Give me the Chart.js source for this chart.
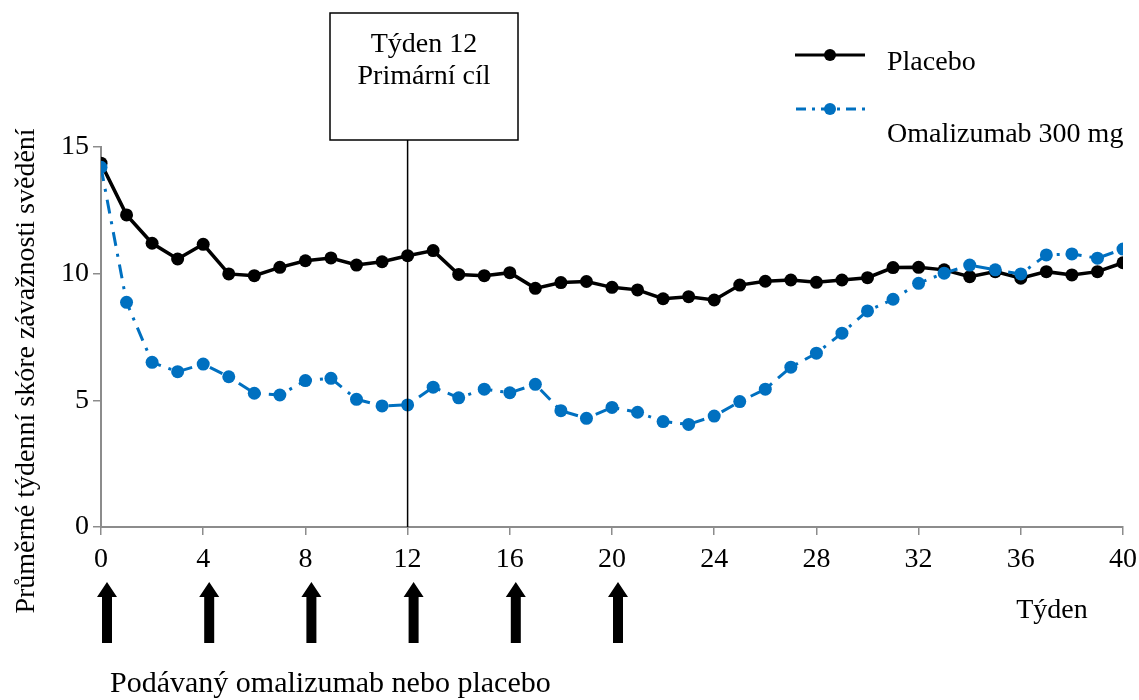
<!DOCTYPE html>
<html>
<head>
<meta charset="utf-8">
<script src="https://cdn.jsdelivr.net/npm/chart.js@4.4.1/dist/chart.umd.min.js"></script>
<style>
  html, body { margin: 0; padding: 0; background: #fff; }
  #wrap { width: 1139px; height: 700px; }
</style>
</head>
<body>
<div id="wrap"><canvas id="chart" width="1139" height="700"></canvas></div>
<script>
// week numbers
var weeks = [0, 1, 2, 3, 4, 5, 6, 7, 8, 9, 10, 11, 12, 13, 14, 15, 16, 17, 18, 19, 20,
             21, 22, 23, 24, 25, 26, 27, 28, 29, 30, 31, 32, 33, 34, 35, 36, 37, 38, 39, 40];

// mean weekly itch severity score
var placebo = [14.36, 12.32, 11.2, 10.58, 11.16, 9.99, 9.92, 10.25, 10.51, 10.62, 10.34,
               10.47, 10.71, 10.91, 9.97, 9.92, 10.04, 9.42, 9.65, 9.69, 9.46,
               9.36, 9.01, 9.09, 8.96, 9.55, 9.7, 9.75, 9.66, 9.75, 9.84,
               10.24, 10.25, 10.15, 9.88, 10.08, 9.82, 10.08, 9.95, 10.08, 10.43];

var omalizumab = [14.2, 8.87, 6.5, 6.13, 6.43, 5.93, 5.28, 5.21, 5.78, 5.87, 5.04,
                  4.78, 4.82, 5.52, 5.1, 5.44, 5.3, 5.63, 4.59, 4.29, 4.72,
                  4.53, 4.16, 4.05, 4.38, 4.95, 5.44, 6.31, 6.86, 7.65, 8.53,
                  8.99, 9.62, 10.02, 10.34, 10.15, 9.99, 10.74, 10.78, 10.61, 10.97];

// weeks when the drug / placebo was given
var doseWeeks = [0, 4, 8, 12, 16, 20];
var primaryWeek = 12;

var yTicks = [0, 5, 10, 15];

var FONT = "'Liberation Serif', 'Times New Roman', serif";
var BLUE = '#0070C0';
var AXIS = '#8c8c8c';

function toPoints(vals) {
  return weeks.map(function (w, i) { return { x: w, y: vals[i] }; });
}

/**
 * extra drawing: week-12 marker, box, legend, arrows, labels
 */
var overlay = {
  id: 'overlay',
  afterDatasetsDraw: function (chart) {
    var ctx = chart.ctx;
    var xs = chart.scales.x;
    var area = chart.chartArea;

    ctx.save();

    // primary endpoint line + box
    var x12 = xs.getPixelForValue(primaryWeek);
    ctx.strokeStyle = '#000';
    ctx.lineWidth = 1.5;
    ctx.beginPath();
    ctx.moveTo(x12, 140);
    ctx.lineTo(x12, area.bottom);
    ctx.stroke();
    ctx.fillStyle = '#fff';
    ctx.fillRect(330, 13, 188, 127);
    ctx.strokeRect(330, 13, 188, 127);

    ctx.fillStyle = '#000';
    ctx.font = '28px ' + FONT;
    ctx.textAlign = 'center';
    ctx.textBaseline = 'middle';
    ctx.fillText('Týden 12', 424, 45);
    ctx.fillText('Primární cíl', 424, 77);

    // legend
    ctx.lineWidth = 3;
    ctx.strokeStyle = '#000';
    ctx.beginPath();
    ctx.moveTo(795, 55);
    ctx.lineTo(865, 55);
    ctx.stroke();
    ctx.beginPath();
    ctx.arc(830, 55, 6, 0, Math.PI * 2);
    ctx.fill();

    ctx.strokeStyle = BLUE;
    ctx.fillStyle = BLUE;
    ctx.setLineDash([10, 6, 3, 6]);
    ctx.beginPath();
    ctx.moveTo(796, 109);
    ctx.lineTo(866, 109);
    ctx.stroke();
    ctx.setLineDash([]);
    ctx.beginPath();
    ctx.arc(830, 109, 6, 0, Math.PI * 2);
    ctx.fill();

    ctx.fillStyle = '#000';
    ctx.textAlign = 'left';
    ctx.textBaseline = 'alphabetic';
    ctx.fillText('Placebo', 887, 70);
    ctx.fillText('Omalizumab 300 mg', 887, 142);

    // dosing arrows
    doseWeeks.forEach(function (w) {
      var cx = xs.getPixelForValue(w) + 6;
      ctx.beginPath();
      ctx.moveTo(cx, 582);
      ctx.lineTo(cx + 10, 597);
      ctx.lineTo(cx + 5, 597);
      ctx.lineTo(cx + 5, 643);
      ctx.lineTo(cx - 5, 643);
      ctx.lineTo(cx - 5, 597);
      ctx.lineTo(cx - 10, 597);
      ctx.closePath();
      ctx.fill();
    });

    ctx.textAlign = 'center';
    ctx.textBaseline = 'middle';
    ctx.fillText('Týden', 1052, 611);

    ctx.font = '30px ' + FONT;
    ctx.textAlign = 'left';
    ctx.textBaseline = 'alphabetic';
    ctx.fillText('Podávaný omalizumab nebo placebo', 110, 692);

    // y axis title
    ctx.font = '28px ' + FONT;
    ctx.translate(27, 371);
    ctx.rotate(-Math.PI / 2);
    ctx.textAlign = 'center';
    ctx.textBaseline = 'middle';
    ctx.fillText('Průměrné týdenní skóre závažnosti svědění', 0, 0);

    ctx.restore();
  }
};

new Chart(document.getElementById('chart').getContext('2d'), {
  type: 'line',
  data: {
    datasets: [
      {
        label: 'Omalizumab 300 mg',
        data: toPoints(omalizumab),
        borderColor: BLUE,
        backgroundColor: BLUE,
        borderWidth: 3,
        borderDash: [14, 8, 3, 8],
        pointRadius: 6.5,
        pointBorderWidth: 0,
        tension: 0,
        order: 1
      },
      {
        label: 'Placebo',
        data: toPoints(placebo),
        borderColor: '#000',
        backgroundColor: '#000',
        borderWidth: 3.5,
        pointRadius: 6.5,
        pointBorderWidth: 0,
        tension: 0,
        order: 2
      }
    ]
  },
  options: {
    responsive: false,
    animation: false,
    layout: { padding: { top: 147, right: 0, left: 0, bottom: 0 } },
    plugins: {
      legend: { display: false },
      tooltip: { enabled: false }
    },
    scales: {
      x: {
        type: 'linear',
        min: 0,
        max: 40,
        afterFit: function (s) {
          s.height = 173;
          s.paddingRight = 16;
        },
        ticks: {
          stepSize: 4,
          padding: 8,
          color: '#000',
          font: { family: FONT, size: 28 }
        },
        grid: { drawOnChartArea: false, drawTicks: true, tickLength: 8, color: AXIS, lineWidth: 1.5 },
        border: { display: true, color: AXIS, width: 2 }
      },
      y: {
        min: 0,
        max: 15,
        afterFit: function (s) { s.width = 101; },
        afterBuildTicks: function (s) {
          s.ticks = yTicks.map(function (v) { return { value: v }; });
        },
        ticks: {
          padding: 4,
          color: '#000',
          font: { family: FONT, size: 28 }
        },
        grid: { drawOnChartArea: false, drawTicks: true, tickLength: 8, color: AXIS, lineWidth: 1.5 },
        border: { display: true, color: AXIS, width: 2 }
      }
    }
  },
  plugins: [overlay]
});
</script>
</body>
</html>
